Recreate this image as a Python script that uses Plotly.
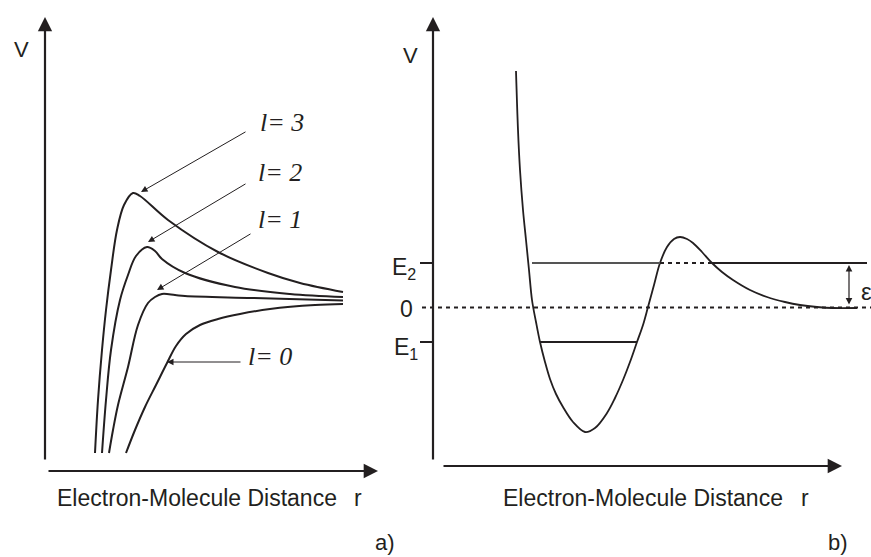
import plotly.graph_objects as go

# ---------------- data (schematic coordinates) ----------------
# Panel a) : effective potentials for l = 0..3
l3_r = [95, 98, 102, 106, 111, 117, 124, 133, 140, 168, 218, 268, 300, 343]
l3_V = [453, 400, 350, 310, 270, 230, 205, 193, 196, 220, 252, 273, 283, 292]
l2_r = [102, 106, 111, 120, 128, 136, 147, 155, 162, 185, 235, 290, 343]
l2_V = [453, 400, 350, 300, 275, 256, 247, 251, 259, 273, 287, 294, 297]
l1_r = [109, 113, 118, 128, 138, 148, 155, 162, 175, 185, 252, 343]
l1_V = [453, 430, 405, 367, 325, 303, 297, 294, 295, 296, 298, 300.5]
l0_r = [126, 135, 145, 156, 167, 176, 186, 200, 218, 240, 270, 315, 343]
l0_V = [453, 430, 407, 385, 363, 346, 334, 325, 319, 314, 309, 305, 304]
l_labels = ["l = 3", "l = 2", "l = 1", "l = 0"]
l_label_pos = [(258, 122), (256, 172), (256, 219), (246, 356)]
l_arrow_tail = [(247, 131), (247, 183), (252, 233), (242, 362)]
l_arrow_head = [(141, 192), (148, 242), (157, 290), (167, 362)]

# Panel b) : potential with a barrier
b_r = [516, 518, 520, 523, 526, 529, 532, 536, 540, 545, 550, 556, 563, 573, 585, 595, 607,
       615, 623, 630, 637, 643, 648, 654, 660, 667, 674, 680, 687, 693, 702, 712, 722, 733,
       750, 767, 785, 800, 817, 833, 857]
b_V = [71, 130, 170, 210, 240, 270, 300, 322, 342, 362, 379, 394, 407, 422, 432, 428, 413,
       398, 380, 362, 342, 325, 307, 285, 263, 247, 239, 237, 239, 243, 252, 263, 272, 280,
       290, 297, 302, 305, 307, 308, 308]
E2_level, zero_level, E1_level = 263, 307.5, 342
E2_solid1 = (532, 660)
E2_dash = (660, 712)
E2_solid2 = (712, 867)
E1_span = (540, 637)
zero_span = (422, 871)

INK = "#231f20"
FONT = "Arial, Liberation Sans, sans-serif"
SERIF = "Times New Roman, Liberation Serif, serif"

fig = go.Figure()

def line(xs, ys, width=2, dash=None, shape="spline", color=INK):
    fig.add_trace(go.Scatter(x=xs, y=ys, mode="lines",
                             line=dict(color=color, width=width, dash=dash, shape=shape,
                                       smoothing=1.0 if shape == "spline" else None),
                             hoverinfo="skip", showlegend=False))

for xs, ys in [(l3_r, l3_V), (l2_r, l2_V), (l1_r, l1_V), (l0_r, l0_V)]:
    line(xs, ys, width=2)

line(b_r, b_V, width=1.8)
line(list(E2_solid1), [E2_level] * 2, width=1.8, shape="linear", color="#555")
line(list(E2_dash), [E2_level] * 2, width=1.8, dash="4px,4px", shape="linear")
line(list(E2_solid2), [E2_level] * 2, width=2, shape="linear")
line(list(E1_span), [E1_level] * 2, width=2, shape="linear")
line(list(zero_span), [zero_level] * 2, width=1.8, dash="4px,4px", shape="linear")
# ticks on b) axis
line([420, 433], [E2_level] * 2, width=2, shape="linear")
line([420, 433], [E1_level] * 2, width=2, shape="linear")

ann = []

def arrow(head, tail, width=2.2, size=1.0, head_style=2, side="end"):
    ann.append(dict(x=head[0], y=head[1], ax=tail[0], ay=tail[1], xref="x", yref="y",
                    axref="x", ayref="y", text="", showarrow=True, arrowhead=head_style,
                    arrowsize=size, arrowwidth=width, arrowcolor=INK, standoff=0,
                    startstandoff=0, arrowside=side))

# axes (arrows)
arrow((45, 17), (45, 461), width=2.2, size=1.3)
arrow((378, 471), (47, 471), width=2.2, size=1.3)
arrow((433, 17), (433, 461), width=2.2, size=1.3)
arrow((842, 466), (442, 466), width=2.2, size=1.3)
# epsilon double arrow
ann.append(dict(x=849, y=265, ax=849, ay=306, xref="x", yref="y", axref="x", ayref="y",
                text="", showarrow=True, arrowhead=2, startarrowhead=2, arrowsize=1.1,
                startarrowsize=1.1, arrowwidth=1.2, arrowcolor=INK, arrowside="end+start",
                standoff=0, startstandoff=0))
# l arrows
for h, t in zip(l_arrow_head, l_arrow_tail):
    arrow(h, t, width=1, size=1.3, head_style=2)

def text(x, y, s, size=23, xanchor="center", family=FONT, yanchor="middle"):
    ann.append(dict(x=x, y=y, xref="x", yref="y", text=s, showarrow=False,
                    xanchor=xanchor, yanchor=yanchor,
                    font=dict(family=family, size=size, color=INK)))

for lab, (x, y) in zip(l_labels, l_label_pos):
    text(x, y, "<i>" + lab.replace(" ", "").replace("=", "= ") + "</i>", size=26,
         xanchor="left", family=SERIF)

text(21, 49, "V", size=22)
text(410, 55, "V", size=22)
text(55, 498, "Electron-Molecule Distance", xanchor="left")
text(352, 498, "r", xanchor="left")
text(501, 498, "Electron-Molecule Distance", xanchor="left")
text(799, 498, "r", xanchor="left")
text(385, 542, "a)", size=22)
text(838, 542, "b)", size=22)
text(418, 268, "E<sub>2</sub>", xanchor="right", size=23)
text(406, 309, "0", size=23)
text(420, 348, "E<sub>1</sub>", xanchor="right", size=23)
text(866, 291, "ε", size=24)

fig.update_layout(
    width=871, height=557, margin=dict(l=0, r=0, t=0, b=0),
    paper_bgcolor="white", plot_bgcolor="white", annotations=ann,
    xaxis=dict(range=[0, 871], visible=False, fixedrange=True),
    yaxis=dict(range=[557, 0], visible=False, fixedrange=True),
)
fig.write_html("out.html")
